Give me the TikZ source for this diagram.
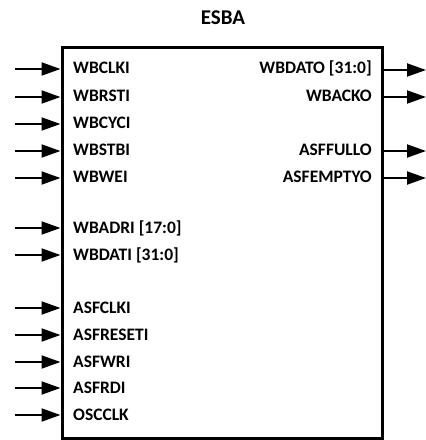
\documentclass[tikz,border=0pt]{standalone}
\usepackage{fontspec}
\setmainfont{Carlito}
\usetikzlibrary{arrows.meta}
\begin{document}
\begin{tikzpicture}[
  lbl/.style={font=\fontsize{17.5}{20}\selectfont\bfseries, inner sep=0pt},
  inl/.style={lbl, anchor=west},
  outl/.style={lbl, anchor=east},
  sig/.style={line width=2pt, -{Triangle[length=19pt,width=13pt]}},
  blockbox/.style={draw, line width=3pt, minimum width=320pt, minimum height=391pt, inner sep=0pt}]
\useasboundingbox (0pt,0pt) rectangle (426pt,-440pt);
\node[blockbox] (box) at (222pt,-242.5pt) {};
\node[font=\fontsize{21}{24}\selectfont\bfseries] (title) at (223pt,-18pt) {ESBA};
% input labels
\node[inl] (i1) at (73pt,-68pt) {WBCLKI};
\node[inl] (i2) at (73pt,-96pt) {WBRSTI};
\node[inl] (i3) at (73pt,-123pt) {WBCYCI};
\node[inl] (i4) at (73pt,-150pt) {WBSTBI};
\node[inl] (i5) at (73pt,-177pt) {WBWEI};
\node[inl] (i6) at (73pt,-228pt) {WBADRI [17:0]};
\node[inl] (i7) at (73pt,-255pt) {WBDATI [31:0]};
\node[inl] (i8) at (73pt,-308pt) {ASFCLKI};
\node[inl] (i9) at (73pt,-335pt) {ASFRESETI};
\node[inl] (i10) at (73pt,-362pt) {ASFWRI};
\node[inl] (i11) at (73pt,-388pt) {ASFRDI};
\node[inl] (i12) at (73pt,-415pt) {OSCCLK};
% output labels
\node[outl] (o1) at (372pt,-68pt) {WBDATO [31:0]};
\node[outl] (o2) at (372pt,-96pt) {WBACKO};
\node[outl] (o3) at (372pt,-150pt) {ASFFULLO};
\node[outl] (o4) at (372pt,-177pt) {ASFEMPTYO};
% input arrows
\coordinate (si1) at (15pt,-69pt);
\coordinate (si2) at (15pt,-97pt);
\coordinate (si3) at (15pt,-124pt);
\coordinate (si4) at (15pt,-151pt);
\coordinate (si5) at (15pt,-178pt);
\coordinate (si6) at (15pt,-228pt);
\coordinate (si7) at (15pt,-255pt);
\coordinate (si8) at (15pt,-308pt);
\coordinate (si9) at (15pt,-335pt);
\coordinate (si10) at (15pt,-362pt);
\coordinate (si11) at (15pt,-388pt);
\coordinate (si12) at (15pt,-415pt);
\draw[sig] (si1) -- (box.west |- si1);
\draw[sig] (si2) -- (box.west |- si2);
\draw[sig] (si3) -- (box.west |- si3);
\draw[sig] (si4) -- (box.west |- si4);
\draw[sig] (si5) -- (box.west |- si5);
\draw[sig] (si6) -- (box.west |- si6);
\draw[sig] (si7) -- (box.west |- si7);
\draw[sig] (si8) -- (box.west |- si8);
\draw[sig] (si9) -- (box.west |- si9);
\draw[sig] (si10) -- (box.west |- si10);
\draw[sig] (si11) -- (box.west |- si11);
\draw[sig] (si12) -- (box.west |- si12);
% output arrows
\coordinate (eo1) at (426pt,-70pt);
\coordinate (eo2) at (426pt,-97pt);
\coordinate (eo3) at (426pt,-151pt);
\coordinate (eo4) at (426pt,-178pt);
\draw[sig] (box.east |- eo1) -- (eo1);
\draw[sig] (box.east |- eo2) -- (eo2);
\draw[sig] (box.east |- eo3) -- (eo3);
\draw[sig] (box.east |- eo4) -- (eo4);
\end{tikzpicture}
\end{document}
